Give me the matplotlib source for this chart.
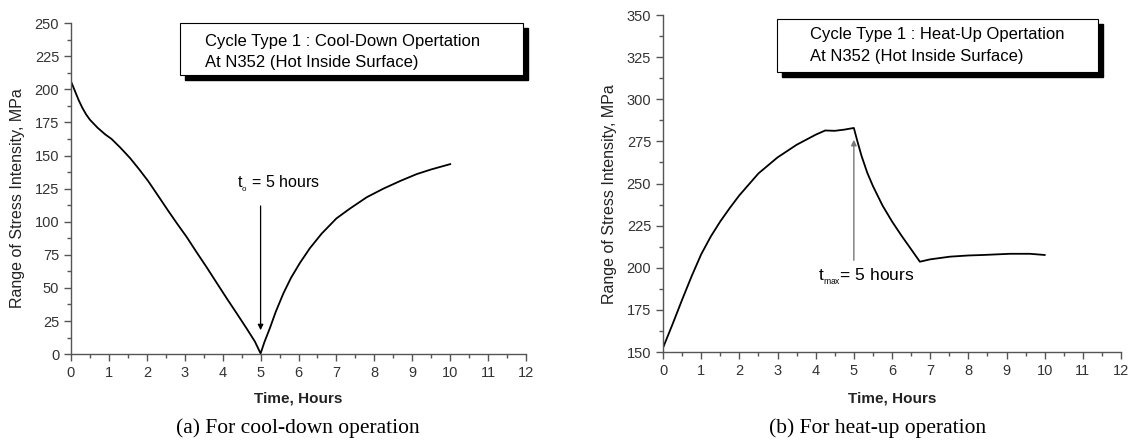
import matplotlib
matplotlib.use("Agg")
import matplotlib.pyplot as plt
from matplotlib.patches import Rectangle
from matplotlib.ticker import MultipleLocator

plt.rcParams['font.family'] = ['Liberation Sans', 'DejaVu Sans']
plt.rcParams['mathtext.fontset'] = 'custom'
plt.rcParams['mathtext.rm'] = 'Liberation Sans'

# (a) cool-down operation
cool_time = [0.0, 0.1, 0.2, 0.3, 0.4, 0.5, 0.7, 0.9, 1.07, 1.3, 1.56, 1.8, 2.04, 2.3, 2.57,
             2.8, 3.05, 3.3, 3.58, 3.85, 4.11, 4.4, 4.64, 4.85, 5.0,
             5.1, 5.25, 5.4, 5.6, 5.8, 6.04, 6.3, 6.61, 7.0, 7.36, 7.8, 8.24, 8.7, 9.12, 9.5, 10.0]
cool_stress = [206, 199, 192, 186, 181, 177, 171, 166, 162.5, 156, 148, 139.5, 130.5, 119.5, 108,
               98.5, 88.5, 77.5, 65.5, 53.5, 42, 29.5, 19, 9.5, 0.5,
               9, 20, 32, 45.8, 57.5, 69, 80, 91, 102.5, 110, 118.5, 125, 131, 136, 139.5, 143.5]

# (b) heat-up operation
heat_time = [0.0, 0.25, 0.5, 0.75, 1.0, 1.25, 1.5, 1.75, 2.0, 2.5, 3.0, 3.5, 4.0, 4.25, 4.5,
             4.75, 5.0, 5.1, 5.2, 5.35, 5.5, 5.75, 6.0, 6.25, 6.5, 6.73,
             7.0, 7.52, 8.0, 8.39, 9.09, 9.61, 10.0]
heat_stress = [152.5, 166.5, 181, 195, 208, 218.5, 227.5, 235.5, 243, 256, 265.5, 273, 279, 281.5, 281.3,
               282, 283, 274.5, 266.5, 256.5, 248.5, 237, 227.5, 219, 211, 203.6,
               205, 206.6, 207.3, 207.6, 208.3, 208.3, 207.6]

axis_grey = '#555555'
label_grey = '#333333'


def style_axes(ax, ylim, ystep):
    ax.set_xlim(0, 12)
    ax.set_ylim(*ylim)
    ax.xaxis.set_major_locator(MultipleLocator(1))
    ax.xaxis.set_minor_locator(MultipleLocator(0.5))
    ax.yaxis.set_major_locator(MultipleLocator(ystep))
    ax.yaxis.set_minor_locator(MultipleLocator(ystep / 2))
    for side in ['top', 'right']:
        ax.spines[side].set_visible(False)
    for side in ['left', 'bottom']:
        ax.spines[side].set_color(axis_grey)
        ax.spines[side].set_linewidth(1.0)
    ax.tick_params(which='major', direction='out', length=5, width=1, color=axis_grey,
                   labelcolor=label_grey, labelsize=10.5)
    ax.tick_params(which='minor', direction='out', length=3, width=1, color=axis_grey)
    for lab in ax.get_xticklabels() + ax.get_yticklabels():
        lab.set_fontfamily(['Liberation Sans Narrow', 'Liberation Sans'])
    ax.set_xlabel('Time, Hours', fontsize=11, fontweight='bold', color='#222222')
    ax.set_ylabel('Range of Stress Intensity, MPa', fontsize=11.5, color='#222222')


def note_box(ax, x, y, w, h, lines, tx, ty1, ty2):
    ax.add_patch(Rectangle((x + 0.011, y - 0.015), w, h, transform=ax.transAxes,
                           facecolor='black', edgecolor='black', clip_on=False, zorder=4))
    ax.add_patch(Rectangle((x, y), w, h, transform=ax.transAxes,
                           facecolor='white', edgecolor='black', lw=0.8, clip_on=False, zorder=5))
    ax.text(tx, ty1, lines[0], transform=ax.transAxes, fontsize=12, va='center', zorder=6)
    ax.text(tx, ty2, lines[1], transform=ax.transAxes, fontsize=12, va='center', zorder=6)


fig = plt.figure(figsize=(11.32, 4.41), dpi=100)

ax1 = fig.add_axes([0.0627, 0.197, 0.402, 0.7506])
ax1.plot(cool_time, cool_stress, color='black', lw=1.3)
style_axes(ax1, (0, 250), 25)
ax1.xaxis.set_label_coords(0.5, -0.112)
ax1.yaxis.set_label_coords(-0.101, 0.47)
note_box(ax1, 0.2396, 0.843, 0.754, 0.157,
         ['Cycle Type 1 : Cool-Down Opertation', 'At N352 (Hot Inside Surface)'],
         0.2945, 0.943, 0.882)
ax1.annotate('', xy=(5, 16), xytext=(5, 114),
             arrowprops=dict(arrowstyle='-|>', color='black', lw=0.9, mutation_scale=8))
ax1.text(4.38, 129, r'$\mathregular{t_{_o}}$ = 5 hours', fontsize=11.5, va='center')

ax2 = fig.add_axes([0.5857, 0.2018, 0.4046, 0.764])
ax2.plot(heat_time, heat_stress, color='black', lw=1.3)
style_axes(ax2, (150, 350), 25)
ax2.xaxis.set_label_coords(0.5, -0.116)
ax2.yaxis.set_label_coords(-0.10, 0.469)
note_box(ax2, 0.249, 0.831, 0.701, 0.157,
         ['Cycle Type 1 : Heat-Up Opertation', 'At N352 (Hot Inside Surface)'],
         0.321, 0.941, 0.878)
ax2.annotate('', xy=(5, 277.6), xytext=(5, 202.8),
             arrowprops=dict(arrowstyle='-|>', color='#777777', lw=1.0, mutation_scale=8))
ax2.text(4.06, 194.5, r'$\mathregular{t_{_{max}}}$= 5 hours', fontsize=12.5, va='center')

fig.text(0.263, 0.03, '(a) For cool-down operation', family='Liberation Serif',
         fontsize=15.5, ha='center', va='center')
fig.text(0.775, 0.03, '(b) For heat-up operation', family='Liberation Serif',
         fontsize=15.5, ha='center', va='center')

fig.savefig('out.png', dpi=100)
